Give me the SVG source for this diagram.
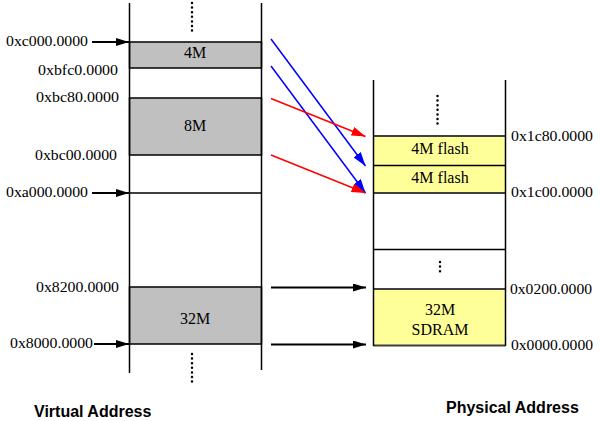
<svg xmlns="http://www.w3.org/2000/svg" width="600" height="421" viewBox="0 0 600 421">
<style>
.t{font-family:"Liberation Serif","Times New Roman",serif;font-size:15px;fill:#000}
.c{font-family:"Liberation Serif","Times New Roman",serif;font-size:16px;fill:#000;text-anchor:middle}
.b{font-family:"Liberation Sans",Arial,sans-serif;font-size:16px;font-weight:bold;fill:#000}
.col{stroke:#000;stroke-width:1.5;fill:none}
.ln{stroke:#000;stroke-width:1.5;fill:none}
.gray{fill:#c0c0c0;stroke:#000;stroke-width:1.5}
.yel{fill:#ffff99;stroke:none}
.edge{stroke:#404040;stroke-width:2.2}
.dots{stroke:#000;stroke-width:2.5;stroke-linecap:round;stroke-dasharray:0 4.6;fill:none}
.ab{stroke:#000;stroke-width:1.8;fill:none;marker-end:url(#ak)}
.ar{stroke:#ff0000;stroke-width:1.5;fill:none;marker-end:url(#arr)}
.abl{stroke:#0000ff;stroke-width:1.5;fill:none;marker-end:url(#abl)}
</style>
<defs>
<marker id="ak" viewBox="0 0 13 8" refX="13" refY="4" markerWidth="13" markerHeight="8" orient="auto" markerUnits="userSpaceOnUse"><path d="M0,0 L13,4 L0,8 Z" fill="#000"/></marker>
<marker id="arr" viewBox="0 0 14 9" refX="14" refY="4.5" markerWidth="14" markerHeight="9" orient="auto" markerUnits="userSpaceOnUse"><path d="M0,0 L14,4.5 L0,9 Z" fill="#ff0000"/></marker>
<marker id="abl" viewBox="0 0 14 9" refX="14" refY="4.5" markerWidth="14" markerHeight="9" orient="auto" markerUnits="userSpaceOnUse"><path d="M0,0 L14,4.5 L0,9 Z" fill="#0000ff"/></marker>
</defs>
<rect width="600" height="421" fill="#fff"/>

<g id="virtual">
<rect class="gray" x="129.5" y="42" width="132" height="26"/>
<rect class="gray" x="129.5" y="98" width="132" height="57"/>
<rect class="gray" x="129.5" y="287" width="132" height="57"/>
<line class="ln" x1="129.5" y1="193" x2="261.5" y2="193"/>
<line class="col" x1="129.5" y1="3" x2="129.5" y2="373"/>
<line class="col" x1="261.5" y1="3" x2="261.5" y2="370"/>
<line class="dots" x1="192" y1="3" x2="192" y2="34"/>
<line class="dots" x1="192" y1="354" x2="192" y2="386"/>
<text class="c" x="195" y="58">4M</text>
<text class="c" x="195" y="131">8M</text>
<text class="c" x="195" y="324">32M</text>
</g>

<g id="virtual-labels">
<text class="t" x="6" y="46" textLength="82" lengthAdjust="spacingAndGlyphs">0xc000.0000</text>
<text class="t" x="38" y="74.5" textLength="80" lengthAdjust="spacingAndGlyphs">0xbfc0.0000</text>
<text class="t" x="36" y="102" textLength="83" lengthAdjust="spacingAndGlyphs">0xbc80.0000</text>
<text class="t" x="35" y="159.5" textLength="82" lengthAdjust="spacingAndGlyphs">0xbc00.0000</text>
<text class="t" x="6" y="197" textLength="82" lengthAdjust="spacingAndGlyphs">0xa000.0000</text>
<text class="t" x="36" y="292" textLength="83" lengthAdjust="spacingAndGlyphs">0x8200.0000</text>
<text class="t" x="10" y="347.5" textLength="83" lengthAdjust="spacingAndGlyphs">0x8000.0000</text>
<text class="b" x="34" y="416.5">Virtual Address</text>
</g>

<g id="physical">
<rect class="yel" x="373.5" y="136" width="132" height="57"/>
<rect class="yel" x="373.5" y="289" width="132" height="57"/>
<line class="edge" x1="373.5" y1="136" x2="505.5" y2="136"/>
<line class="ln" x1="373.5" y1="165.5" x2="505.5" y2="165.5"/>
<line class="edge" x1="373.5" y1="193" x2="505.5" y2="193"/>
<line class="ln" x1="373.5" y1="249.5" x2="505.5" y2="249.5"/>
<line class="edge" x1="373.5" y1="289" x2="505.5" y2="289"/>
<line class="edge" x1="373.5" y1="345.5" x2="505.5" y2="345.5"/>
<line class="col" x1="373.5" y1="80" x2="373.5" y2="346"/>
<line class="col" x1="505.5" y1="80" x2="505.5" y2="346"/>
<line class="dots" x1="437.5" y1="96" x2="437.5" y2="128"/>
<line class="dots" x1="440" y1="262" x2="440" y2="275"/>
<text class="c" x="440" y="153.5">4M flash</text>
<text class="c" x="440" y="182.5">4M flash</text>
<text class="c" x="440" y="315">32M</text>
<text class="c" x="440" y="334.5">SDRAM</text>
</g>

<g id="physical-labels">
<text class="t" x="511" y="140.5" textLength="82" lengthAdjust="spacingAndGlyphs">0x1c80.0000</text>
<text class="t" x="511" y="197" textLength="82" lengthAdjust="spacingAndGlyphs">0x1c00.0000</text>
<text class="t" x="510" y="293.5" textLength="82" lengthAdjust="spacingAndGlyphs">0x0200.0000</text>
<text class="t" x="511" y="350" textLength="82" lengthAdjust="spacingAndGlyphs">0x0000.0000</text>
<text class="b" x="446" y="412.5">Physical Address</text>
</g>

<g id="connectors">
<line class="ab" x1="92" y1="42" x2="129" y2="42"/>
<line class="ab" x1="92" y1="193" x2="129" y2="193"/>
<line class="ab" x1="94" y1="344" x2="129" y2="344"/>
<line class="ab" x1="271" y1="287.5" x2="366" y2="287.5"/>
<line class="ab" x1="271" y1="344.5" x2="366" y2="344.5"/>
<line class="abl" x1="271" y1="39" x2="365.5" y2="166"/>
<line class="abl" x1="271" y1="66" x2="365.5" y2="193"/>
<line class="ar" x1="271" y1="98.5" x2="365.5" y2="136.5"/>
<line class="ar" x1="271" y1="155" x2="365.5" y2="193"/>
</g>
</svg>
